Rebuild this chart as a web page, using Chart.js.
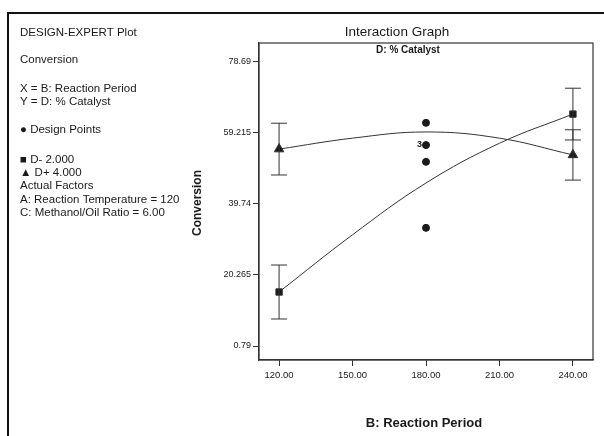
<!DOCTYPE html>
<html>
<head>
<meta charset="utf-8">
<script src="https://cdn.jsdelivr.net/npm/chart.js@4/dist/chart.umd.min.js"></script>
<style>
  html, body { margin: 0; padding: 0; background: #fff; }
  canvas { display: block; }
</style>
</head>
<body>
<canvas id="myChart" width="604" height="436"></canvas>
<script>
// B: Reaction Period values along the x axis
const periods = [120, 150, 180, 210, 240];

// predicted Conversion for each catalyst level
const lowCatalyst = [15.6, 31.3, 45.5, 56.4, 64.4];   // D- 2.000
const highCatalyst = [54.8, 57.8, 59.5, 57.8, 53.2];  // D+ 4.000

// LSD bars at the end points
const errorPeriods = [120, 240];
const lowErr = [7.4, 7.1];
const highErr = [7.1, 6.9];

// design points
const designX = [180, 180, 180, 180];
const designY = [62.0, 55.9, 51.3, 33.2];

const xTicks = [120, 150, 180, 210, 240];
const yTicks = [0.79, 20.265, 39.74, 59.215, 78.69];

const sideText = [
    "DESIGN-EXPERT Plot",
    "Conversion",
    "X = B: Reaction Period",
    "Y = D: % Catalyst",
    "\u25CF Design Points",
    "\u25A0 D- 2.000",
    "\u25B2 D+ 4.000",
    "Actual Factors",
    "A: Reaction Temperature = 120",
    "C: Methanol/Oil Ratio = 6.00"
];
const sideRows = [33, 60, 89, 102, 130, 160, 173, 186, 200, 213];

const ink = "#1a1a1a";
const font = "'Liberation Sans', Arial, sans-serif";

const extras = {
    id: "extras",
    afterDatasetsDraw(chart) {
        const ctx = chart.ctx;
        const a = chart.chartArea;
        const xs = chart.scales.x;
        const ys = chart.scales.y;

        ctx.save();

        // plot frame
        ctx.strokeStyle = "#333";
        ctx.lineWidth = 1.2;
        ctx.strokeRect(a.left, a.top, a.right - a.left, a.bottom - a.top);

        // error bars
        ctx.lineWidth = 1;
        ctx.strokeStyle = "#333";
        const bar = (xv, yv, e) => {
            const px = xs.getPixelForValue(xv);
            const t = ys.getPixelForValue(yv + e);
            const b = ys.getPixelForValue(yv - e);
            ctx.beginPath();
            ctx.moveTo(px, t); ctx.lineTo(px, b);
            ctx.moveTo(px - 8, t); ctx.lineTo(px + 8, t);
            ctx.moveTo(px - 8, b); ctx.lineTo(px + 8, b);
            ctx.stroke();
        };
        errorPeriods.forEach((p, i) => {
            const k = periods.indexOf(p);
            bar(p, lowCatalyst[k], lowErr[i]);
            bar(p, highCatalyst[k], highErr[i]);
        });

        // replicate count
        ctx.fillStyle = ink;
        ctx.font = "bold 9px " + font;
        ctx.textAlign = "right";
        ctx.textBaseline = "middle";
        ctx.fillText("3", xs.getPixelForValue(designX[1]) - 4, ys.getPixelForValue(designY[1]) - 1);

        // titles
        ctx.textAlign = "center";
        ctx.textBaseline = "middle";
        ctx.font = "13.5px " + font;
        ctx.fillText("Interaction Graph", 397, 32);
        ctx.font = "bold 10px " + font;
        ctx.fillText("D: % Catalyst", 408, 50);
        ctx.font = "bold 13px " + font;
        ctx.fillText("B: Reaction Period", 424, 423);

        ctx.save();
        ctx.translate(198, 203);
        ctx.rotate(-Math.PI / 2);
        ctx.font = "bold 12px " + font;
        ctx.fillText("Conversion", 0, 0);
        ctx.restore();

        // side legend text
        ctx.textAlign = "left";
        ctx.font = "11.5px " + font;
        sideText.forEach((line, i) => {
            ctx.fillText(line, 20, sideRows[i]);
        });

        // outer frame
        ctx.strokeStyle = "#111";
        ctx.lineWidth = 2;
        ctx.beginPath();
        ctx.moveTo(8, 436);
        ctx.lineTo(8, 13);
        ctx.lineTo(604, 13);
        ctx.stroke();

        ctx.restore();
    }
};

new Chart(document.getElementById("myChart"), {
    type: "line",
    data: {
        datasets: [
            {
                label: "D- 2.000",
                data: periods.map((p, i) => ({ x: p, y: lowCatalyst[i] })),
                borderColor: "#333",
                borderWidth: 1,
                backgroundColor: ink,
                tension: 0.4,
                pointStyle: "rect",
                pointRadius: periods.map((p, i) => (i === 0 || i === periods.length - 1) ? 4.5 : 0)
            },
            {
                label: "D+ 4.000",
                data: periods.map((p, i) => ({ x: p, y: highCatalyst[i] })),
                borderColor: "#333",
                borderWidth: 1,
                backgroundColor: ink,
                tension: 0.4,
                pointStyle: "triangle",
                pointRadius: periods.map((p, i) => (i === 0 || i === periods.length - 1) ? 5.5 : 0)
            },
            {
                label: "Design Points",
                data: designX.map((x, i) => ({ x: x, y: designY[i] })),
                showLine: false,
                backgroundColor: ink,
                borderColor: ink,
                pointStyle: "circle",
                pointRadius: 3.5
            }
        ]
    },
    options: {
        responsive: false,
        animation: false,
        layout: {
            padding: { left: 219, right: 11, top: 43, bottom: 46 }
        },
        plugins: {
            legend: { display: false },
            tooltip: { enabled: false }
        },
        scales: {
            x: {
                type: "linear",
                min: 111.8,
                max: 248.2,
                afterBuildTicks: s => { s.ticks = xTicks.map(v => ({ value: v })); },
                afterFit: s => { s.height = 30; },
                ticks: {
                    callback: v => v.toFixed(2),
                    color: ink,
                    padding: 4,
                    maxRotation: 0,
                    font: { size: 9.5, family: font }
                },
                grid: { drawOnChartArea: false, tickLength: 6, color: "#333" },
                border: { color: "#333", width: 1.2 }
            },
            y: {
                type: "linear",
                min: -3.05,
                max: 83.9,
                afterBuildTicks: s => { s.ticks = yTicks.map(v => ({ value: v })); },
                afterFit: s => { s.width = 40; },
                ticks: {
                    callback: v => String(v),
                    color: ink,
                    padding: 2,
                    font: { size: 9, family: font }
                },
                grid: { drawOnChartArea: false, tickLength: 6, color: "#333" },
                border: { color: "#333", width: 1.2 }
            }
        }
    },
    plugins: [extras]
});
</script>
</body>
</html>
